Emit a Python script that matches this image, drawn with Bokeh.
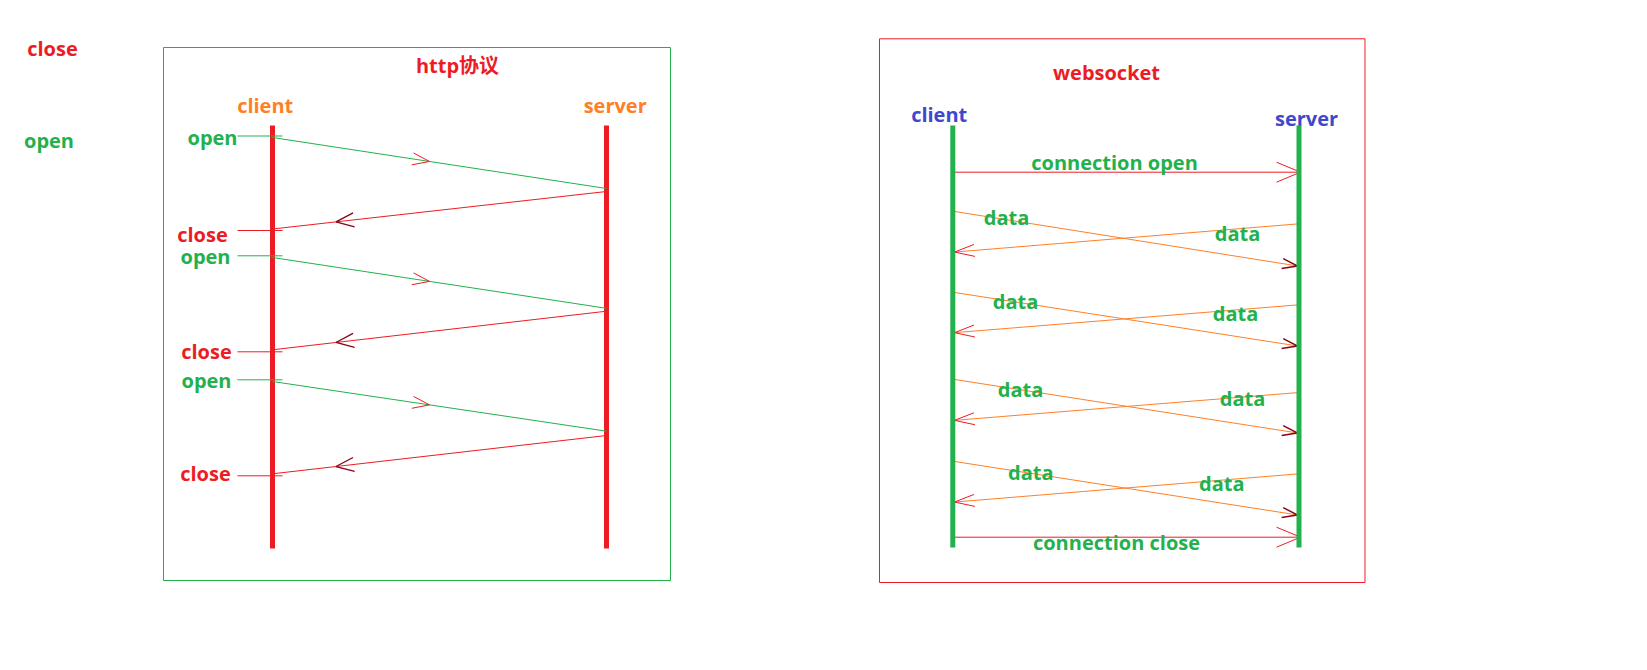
from bokeh.plotting import figure
from bokeh.models import Range1d
from bokeh.embed import file_html
from bokeh.resources import INLINE
from bokeh.core.properties import value
import numpy as np

RED = "#ed1c24"
GREEN = "#22b14c"
ORANGE = "#ff7f27"
BLUE = "#3f48cc"
DARKRED = "#880015"
FONT = value("Open Sans, 'Noto Sans CJK SC', sans-serif")

# ---------------- data (page pixel coordinates) ----------------
# stray labels at far left
stray_text = ["close", "open"]
stray_x = [52, 48.5]
stray_y = [48, 139.7]
stray_color = [RED, GREEN]

# HTTP panel
http_box = [163, 670, 47, 580]  # left, right, top, bottom
http_title = "http协议"
http_title_xy = (457, 65)
http_actor_text = ["client", "server"]
http_actor_x = [264.7, 614.7]
http_actor_y = [105, 105]
http_client_x = 272
http_server_x = 606
life_top = 125
http_life_bottom = 548
http_open_y = [135.5, 255.3, 379.3]
http_req_start_y = [137, 257, 381]
http_req_end_y = [188, 307.8, 430.7]
http_resp_start_y = [191, 310.7, 435]
http_resp_end_y = [228.5, 349.3, 473.3]
http_close_y = [230, 351.3, 475.3]
http_tick_x0 = 237
http_tick_x1 = 282
open_label_x = [212, 205, 206]
open_label_y = [137, 256.3, 379.5]
close_label_x = [202, 206, 205]
close_label_y = [233.7, 350.5, 472.8]
req_head_frac = 0.47
resp_head_frac = 0.81

# WebSocket panel
ws_box = [879, 1364.5, 38.3, 582]
ws_title = "websocket"
ws_title_xy = (1106, 71.5)
ws_actor_text = ["client", "server"]
ws_actor_x = [938.7, 1306]
ws_actor_y = [114, 117.5]
ws_client_x = 952.3
ws_server_x = 1298.5
ws_life_bottom = 547
conn_y = [171.7, 536.7]
conn_text = ["connection open", "connection close"]
conn_label_x = [1114, 1116]
conn_label_y = [162, 542]
up_start_y = [210.7, 291.7, 378.7, 460.7]
up_end_y = [265.7, 345.7, 432.7, 514.7]
back_start_y = [223.3, 304.3, 392, 473.3]
back_end_y = [251.7, 332.3, 420, 501.7]
data_left_x = [1006, 1015, 1020, 1030.3]
data_left_y = [217, 300.8, 389, 471.7]
data_right_x = [1237, 1235, 1242, 1221.3]
data_right_y = [233, 312.5, 397.5, 482.5]

# ---------------- figure ----------------
p = figure(width=1631, height=654, output_backend="svg", toolbar_location=None,
           x_range=Range1d(0, 1631), y_range=Range1d(654, 0),
           x_axis_location=None, y_axis_location=None, min_border=0)
p.grid.visible = False
p.outline_line_color = None
p.background_fill_color = "white"


def chevrons(x0, y0, x1, y1, frac, L, H):
    x0, y0, x1, y1 = map(np.asarray, (x0, y0, x1, y1))
    dx, dy = x1 - x0, y1 - y0
    n = np.hypot(dx, dy)
    ux, uy = dx / n, dy / n
    tx, ty = x0 + frac * dx, y0 + frac * dy
    nx, ny = -uy, ux
    ax = np.concatenate([tx - L * ux + H * nx, tx - L * ux - H * nx])
    ay = np.concatenate([ty - L * uy + H * ny, ty - L * uy - H * ny])
    return ax, ay, np.concatenate([tx, tx]), np.concatenate([ty, ty])


def label(xs, ys, texts, color, size="20px"):
    p.text(x=xs, y=ys, text=texts, text_color=color, text_font=FONT,
           text_font_style="bold", text_font_size=size,
           text_align="center", text_baseline="middle")


# stray labels
label(stray_x, stray_y, stray_text, stray_color)

# ---- HTTP panel ----
p.quad(left=[http_box[0]], right=[http_box[1]], top=[http_box[2]], bottom=[http_box[3]],
       fill_color=None, line_color=GREEN, line_width=1)
label([http_title_xy[0]], [http_title_xy[1]], [http_title], RED)
label(http_actor_x, http_actor_y, http_actor_text, ORANGE)
p.segment(x0=[http_client_x, http_server_x], y0=[life_top] * 2,
          x1=[http_client_x, http_server_x], y1=[http_life_bottom] * 2,
          line_color=RED, line_width=5, line_cap="butt")

n3 = len(http_open_y)
p.segment(x0=[http_tick_x0] * n3, y0=http_open_y, x1=[http_tick_x1] * n3, y1=http_open_y,
          line_color=GREEN, line_width=1)
p.segment(x0=[http_tick_x0] * n3, y0=http_close_y, x1=[http_tick_x1] * n3, y1=http_close_y,
          line_color=RED, line_width=1)
p.segment(x0=[http_client_x] * n3, y0=http_req_start_y, x1=[http_server_x] * n3, y1=http_req_end_y,
          line_color=GREEN, line_width=1)
p.segment(x0=[http_server_x] * n3, y0=http_resp_start_y, x1=[http_client_x] * n3, y1=http_resp_end_y,
          line_color=RED, line_width=1)
ax, ay, tx, ty = chevrons([http_client_x] * n3, http_req_start_y, [http_server_x] * n3,
                          http_req_end_y, req_head_frac, 17, 6)
p.segment(x0=ax, y0=ay, x1=tx, y1=ty, line_color=RED, line_width=1)
ax, ay, tx, ty = chevrons([http_server_x] * n3, http_resp_start_y, [http_client_x] * n3,
                          http_resp_end_y, resp_head_frac, 18, 7)
p.segment(x0=ax, y0=ay, x1=tx, y1=ty, line_color=DARKRED, line_width=1.3)
label(open_label_x, open_label_y, ["open"] * n3, GREEN)
label(close_label_x, close_label_y, ["close"] * n3, RED)

# ---- WebSocket panel ----
p.quad(left=[ws_box[0]], right=[ws_box[1]], top=[ws_box[2]], bottom=[ws_box[3]],
       fill_color=None, line_color=RED, line_width=1)
label([ws_title_xy[0]], [ws_title_xy[1]], [ws_title], RED)
label(ws_actor_x, ws_actor_y, ws_actor_text, BLUE)

n4 = len(up_start_y)
p.segment(x0=[ws_client_x] * n4, y0=up_start_y, x1=[ws_server_x] * n4, y1=up_end_y,
          line_color=ORANGE, line_width=1)
p.segment(x0=[ws_server_x] * n4, y0=back_start_y, x1=[ws_client_x] * n4, y1=back_end_y,
          line_color=ORANGE, line_width=1)
ax, ay, tx, ty = chevrons([ws_client_x] * n4, up_start_y, [ws_server_x] * n4, up_end_y, 0.995, 15, 5)
p.segment(x0=ax, y0=ay, x1=tx, y1=ty, line_color=DARKRED, line_width=1.5)
ax, ay, tx, ty = chevrons([ws_server_x] * n4, back_start_y, [ws_client_x] * n4, back_end_y, 0.995, 20, 6)
p.segment(x0=ax, y0=ay, x1=tx, y1=ty, line_color=RED, line_width=1)

p.segment(x0=[ws_client_x] * 2, y0=conn_y, x1=[ws_server_x + 1.5] * 2, y1=conn_y,
          line_color=RED, line_width=1)
ax, ay, tx, ty = chevrons([ws_client_x] * 2, conn_y, [ws_server_x + 1.5] * 2, conn_y, 1.0, 24, 10)
p.segment(x0=ax, y0=ay, x1=tx, y1=ty, line_color=RED, line_width=1)

p.segment(x0=[ws_client_x, ws_server_x], y0=[life_top] * 2,
          x1=[ws_client_x, ws_server_x], y1=[ws_life_bottom] * 2,
          line_color=GREEN, line_width=5, line_cap="butt")

label(conn_label_x, conn_label_y, conn_text, GREEN)
label(data_left_x, data_left_y, ["data"] * n4, GREEN)
label(data_right_x, data_right_y, ["data"] * n4, GREEN)

open("out.html", "w").write(file_html(p, INLINE))
